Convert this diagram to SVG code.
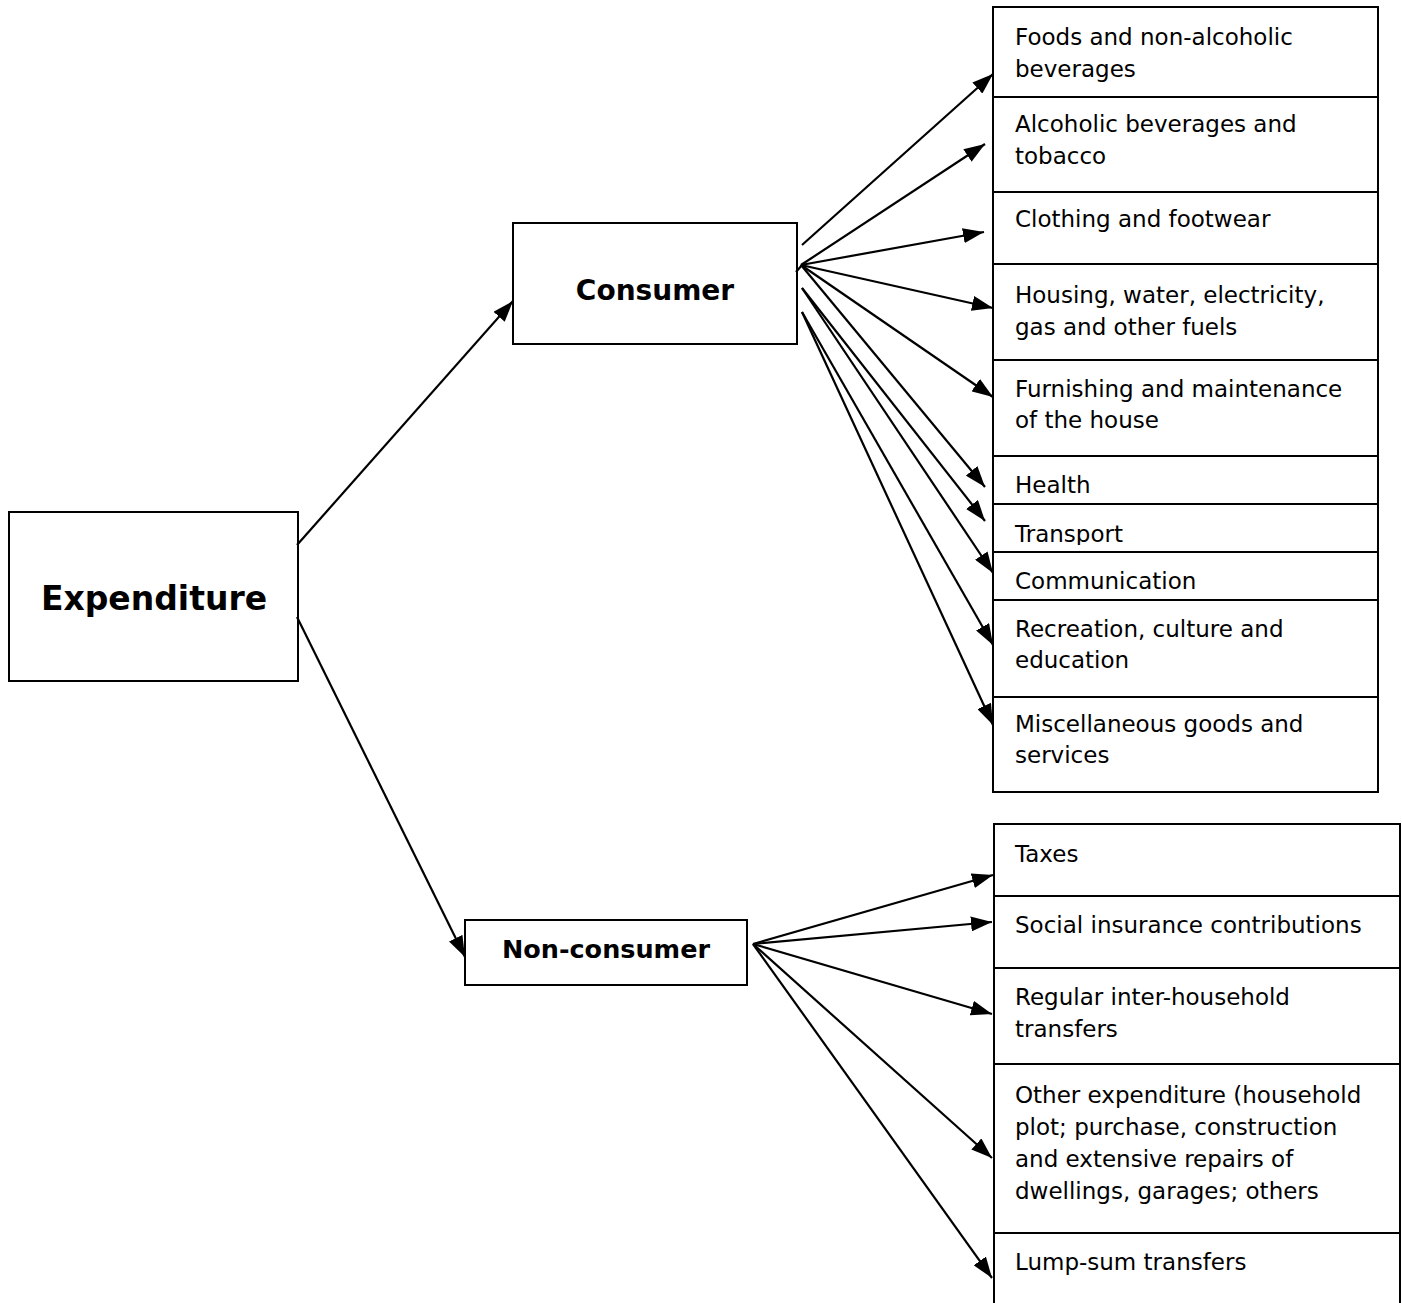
<svg xmlns="http://www.w3.org/2000/svg" width="1402" height="1303" viewBox="0 0 1402 1303">
<style>
.box{fill:#fff;stroke:#000;stroke-width:2}
.t{font-family:"DejaVu Sans","Liberation Sans",sans-serif;font-size:23px;fill:#000}
.b{font-family:"DejaVu Sans","Liberation Sans",sans-serif;font-weight:bold;fill:#000;text-anchor:middle}
.c{stroke:#000;stroke-width:2.2;fill:none;marker-end:url(#ah)}
.s{stroke:#000;stroke-width:2.2;fill:none}
</style>
<defs>
<marker id="ah" markerUnits="userSpaceOnUse" markerWidth="21" markerHeight="15" refX="21" refY="7.5" orient="auto">
<path d="M0,0 L21,7.5 L0,15 z" fill="#000"/>
</marker>
<clipPath id="clipT"><rect x="994" y="505" width="380" height="40"/></clipPath>
</defs>
<rect width="1402" height="1303" fill="#fff"/>

<g id="expenditure">
<rect class="box" x="9" y="512" width="289" height="169"/>
<text class="b" x="154" y="610" font-size="33">Expenditure</text>
</g>
<g id="consumer">
<rect class="box" x="513" y="223" width="284" height="121"/>
<text class="b" x="655" y="300" font-size="28">Consumer</text>
</g>
<g id="non-consumer">
<rect class="box" x="465" y="920" width="282" height="65"/>
<text class="b" x="606" y="958" font-size="25.5">Non-consumer</text>
</g>

<g id="foods"><rect class="box" x="993" y="7" width="385" height="90"/>
<text class="t" x="1015" y="45">Foods and non-alcoholic</text><text class="t" x="1015" y="77">beverages</text></g>
<g id="alcoholic"><rect class="box" x="993" y="97" width="385" height="95"/>
<text class="t" x="1015" y="132">Alcoholic beverages and</text><text class="t" x="1015" y="164">tobacco</text></g>
<g id="clothing"><rect class="box" x="993" y="192" width="385" height="72"/>
<text class="t" x="1015" y="227">Clothing and footwear</text></g>
<g id="housing"><rect class="box" x="993" y="264" width="385" height="96"/>
<text class="t" x="1015" y="303">Housing, water, electricity,</text><text class="t" x="1015" y="335">gas and other fuels</text></g>
<g id="furnishing"><rect class="box" x="993" y="360" width="385" height="96"/>
<text class="t" x="1015" y="397">Furnishing and maintenance</text><text class="t" x="1015" y="428">of the house</text></g>
<g id="health"><rect class="box" x="993" y="456" width="385" height="48"/>
<text class="t" x="1015" y="493">Health</text></g>
<g id="transport"><rect class="box" x="993" y="504" width="385" height="48"/>
<text class="t" x="1015" y="542" clip-path="url(#clipT)">Transport</text></g>
<g id="communication"><rect class="box" x="993" y="552" width="385" height="48"/>
<text class="t" x="1015" y="589">Communication</text></g>
<g id="recreation"><rect class="box" x="993" y="600" width="385" height="97"/>
<text class="t" x="1015" y="637">Recreation, culture and</text><text class="t" x="1015" y="668">education</text></g>
<g id="misc"><rect class="box" x="993" y="697" width="385" height="95"/>
<text class="t" x="1015" y="732">Miscellaneous goods and</text><text class="t" x="1015" y="763">services</text></g>

<g id="taxes"><rect class="box" x="994" y="824" width="406" height="72"/>
<text class="t" x="1015" y="862">Taxes</text></g>
<g id="social"><rect class="box" x="994" y="896" width="406" height="72"/>
<text class="t" x="1015" y="933">Social insurance contributions</text></g>
<g id="regular"><rect class="box" x="994" y="968" width="406" height="96"/>
<text class="t" x="1015" y="1005">Regular inter-household</text><text class="t" x="1015" y="1037">transfers</text></g>
<g id="other"><rect class="box" x="994" y="1064" width="406" height="169"/>
<text class="t" x="1015" y="1103">Other expenditure (household</text><text class="t" x="1015" y="1135">plot; purchase, construction</text><text class="t" x="1015" y="1167">and extensive repairs of</text><text class="t" x="1015" y="1199">dwellings, garages; others</text></g>
<g id="lump"><rect class="box" x="994" y="1233" width="406" height="80"/>
<text class="t" x="1015" y="1270">Lump-sum transfers</text></g>

<g id="connectors">
<line class="c" x1="297" y1="545" x2="513" y2="301"/>
<line class="c" x1="297" y1="617" x2="465" y2="957"/>
<line class="s" x1="796" y1="272" x2="802" y2="265"/>
<line class="c" x1="802" y1="245" x2="993" y2="74"/>
<line class="c" x1="801" y1="265" x2="985" y2="144"/>
<line class="c" x1="801" y1="265" x2="984" y2="232"/>
<line class="c" x1="801" y1="265" x2="993" y2="308"/>
<line class="c" x1="801" y1="265" x2="993" y2="397"/>
<line class="c" x1="801" y1="265" x2="985" y2="487"/>
<line class="c" x1="802" y1="288" x2="985" y2="521"/>
<line class="c" x1="802" y1="288" x2="993" y2="573"/>
<line class="c" x1="802" y1="312" x2="993" y2="645"/>
<line class="c" x1="802" y1="312" x2="993" y2="725"/>
<line class="c" x1="753" y1="944" x2="993" y2="875"/>
<line class="c" x1="753" y1="944" x2="992" y2="922"/>
<line class="c" x1="753" y1="944" x2="992" y2="1014"/>
<line class="c" x1="753" y1="944" x2="992" y2="1158"/>
<line class="c" x1="753" y1="944" x2="992" y2="1278"/>
</g>
</svg>
